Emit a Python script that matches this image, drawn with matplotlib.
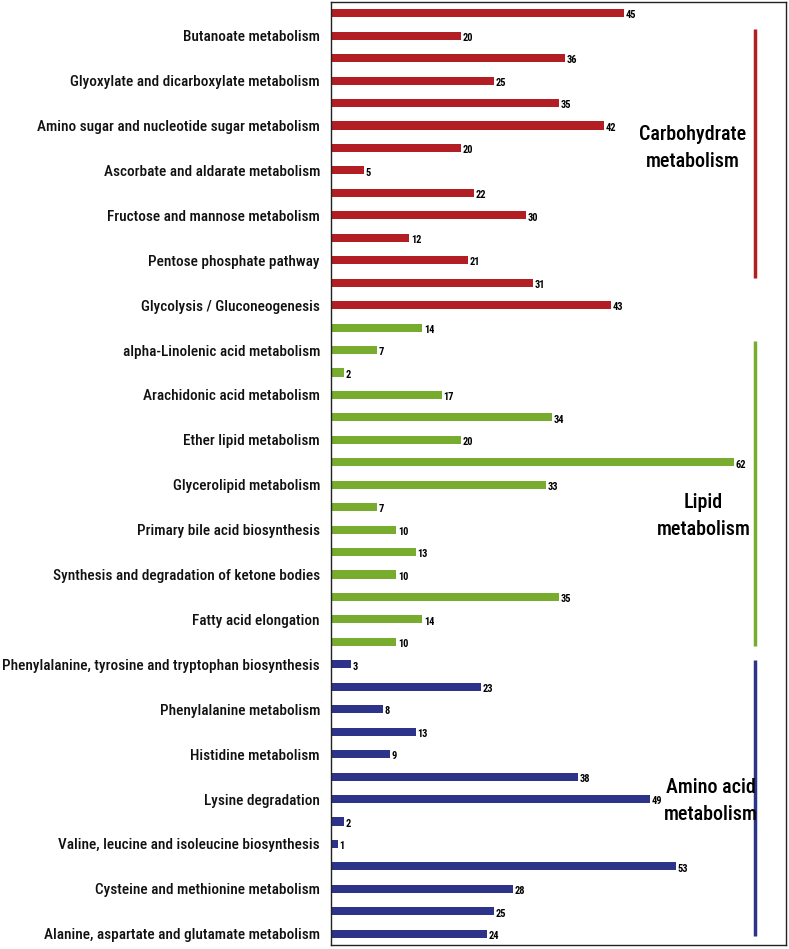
import numpy as np
import matplotlib.pyplot as plt
from matplotlib import font_manager

# pick a narrow face if one is installed
available = {f.name for f in font_manager.fontManager.ttflist}
narrow = [f for f in ['Liberation Sans Narrow', 'DejaVu Sans Condensed', 'Roboto Condensed',
                      'Open Sans Condensed'] if f in available]
if narrow:
    font_name, label_size = narrow[0], 11
else:
    font_name, label_size = 'Lato', 10.5
plt.rcParams['font.family'] = [font_name, 'DejaVu Sans']

# bar values, top to bottom
carb_vals = [45, 20, 36, 25, 35, 42, 20, 5, 22, 30, 12, 21, 31, 43]
lipid_vals = [14, 7, 2, 17, 34, 20, 62, 33, 7, 10, 13, 10, 35, 14, 10]
amino_vals = [3, 23, 8, 13, 9, 38, 49, 2, 1, 53, 28, 25, 24]

# labels, shown on every other bar
carb_labels = ['', 'Butanoate metabolism', '', 'Glyoxylate and dicarboxylate metabolism', '',
               'Amino sugar and nucleotide sugar metabolism', '', 'Ascorbate and aldarate metabolism', '',
               'Fructose and mannose metabolism', '', 'Pentose phosphate pathway', '',
               'Glycolysis / Gluconeogenesis']
lipid_labels = ['', 'alpha-Linolenic acid metabolism', '', 'Arachidonic acid metabolism', '',
                'Ether lipid metabolism', '', 'Glycerolipid metabolism', '',
                'Primary bile acid biosynthesis', '', 'Synthesis and degradation of ketone bodies', '',
                'Fatty acid elongation', '']
amino_labels = ['Phenylalanine, tyrosine and tryptophan biosynthesis', '', 'Phenylalanine metabolism', '',
                'Histidine metabolism', '', 'Lysine degradation', '',
                'Valine, leucine and isoleucine biosynthesis', '', 'Cysteine and methionine metabolism', '',
                'Alanine, aspartate and glutamate metabolism']

group_names = ['Carbohydrate\nmetabolism', 'Lipid\nmetabolism', 'Amino acid\nmetabolism']
group_colors = ['#B21E24', '#78AC2E', '#2E338A']

vals = carb_vals + lipid_vals + amino_vals
labels = carb_labels + lipid_labels + amino_labels
colors = ([group_colors[0]] * len(carb_vals) + [group_colors[1]] * len(lipid_vals)
          + [group_colors[2]] * len(amino_vals))
n = len(vals)
y = np.arange(n)

fig = plt.figure(figsize=(7.89, 9.49), dpi=100)
ax = fig.add_axes([331 / 789, 4 / 949, 455 / 789, 943 / 949])

ax.barh(y, vals, height=0.36, color=colors, zorder=2)
for yi, v in zip(y, vals):
    ax.text(v + 0.3, yi + 0.1, str(v), fontsize=7.5, fontweight='bold', va='center', ha='left')

ax.set_yticks(y)
ax.set_yticklabels(labels, fontsize=label_size, fontweight='medium', color='#111111')
ax.tick_params(axis='y', length=0, pad=8)
ax.set_xticks([])
ax.set_xlim(0, 70)
ax.set_ylim(n - 0.5, -0.5)
for s in ax.spines.values():
    s.set_color('#222222')
    s.set_linewidth(1.0)

# group brackets and titles
line_spans = [(0.7, 11.8), (14.6, 28.2), (28.8, 41.1)]
text_pos = [(55.7, 6.0), (57.3, 22.4), (58.4, 35.1)]
for name, col, (a, b), (tx, ty) in zip(group_names, group_colors, line_spans, text_pos):
    ax.plot([65.2, 65.2], [a, b], color=col, lw=2.5, solid_capstyle='butt', zorder=3)
    ax.text(tx, ty, name, fontsize=14.5, fontweight='medium', ha='center', va='center',
            linespacing=1.55)

fig.savefig('out.png', dpi=100)
